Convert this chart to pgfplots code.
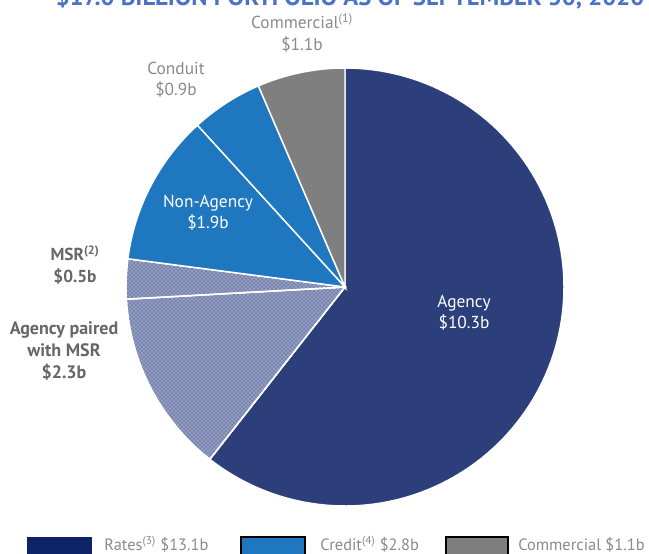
\documentclass[border=0pt]{standalone}
\usepackage{pgfplots}
\pgfplotsset{compat=1.18}
\usepackage{fontspec}
\setmainfont{PT Sans}
\usetikzlibrary{patterns}
\definecolor{navyS}{HTML}{2C3F7B}
\definecolor{navyL}{HTML}{0E2466}
\definecolor{blueS}{HTML}{1F78BF}
\definecolor{grayS}{HTML}{7F7F7F}
\definecolor{hatchbg}{HTML}{929CC0}
\definecolor{titleblue}{HTML}{4A72C8}
\definecolor{lblgray}{HTML}{8A8A8A}
\definecolor{lbldark}{HTML}{666666}
% values in $ billions
\def\vA{10.3}% Agency
\def\vB{2.3}% Agency paired with MSR
\def\vC{0.5}% MSR
\def\vD{1.9}% Non-Agency
\def\vE{0.9}% Conduit
\def\vF{1.1}% Commercial
\pgfmathsetmacro\tot{\vA+\vB+\vC+\vD+\vE+\vF}
\pgfmathsetmacro\aA{90-360*\vA/\tot}
\pgfmathsetmacro\aB{\aA-360*\vB/\tot}
\pgfmathsetmacro\aC{\aB-360*\vC/\tot}
\pgfmathsetmacro\aD{\aC-360*\vD/\tot}
\pgfmathsetmacro\aE{\aD-360*\vE/\tot}
\pgfmathsetmacro\aF{\aE-360*\vF/\tot}
\begin{document}
\begin{tikzpicture}
\clip (0,0) rectangle (486.75pt,414.75pt);
\begin{axis}[at={(0,0)}, anchor=south west, scale only axis,
  width=486.75pt, height=414.75pt,
  xmin=0, xmax=649, ymin=0, ymax=553, y dir=reverse,
  hide axis, clip=false]
% slices
\addplot[fill=navyS, draw=white, line width=1.1pt, domain=\aA:90, samples=120, variable=\t]
  ({345+219*cos(\t)},{287-219*sin(\t)}) -- (axis cs:345,287) -- cycle;
\addplot[fill=hatchbg, draw=white, line width=1.1pt, domain=\aB:\aA, samples=40, variable=\t,
  postaction={pattern=crosshatch dots, pattern color=navyS}]
  ({345+219*cos(\t)},{287-219*sin(\t)}) -- (axis cs:345,287) -- cycle;
\addplot[fill=hatchbg, draw=white, line width=1.1pt, domain=\aC:\aB, samples=20, variable=\t,
  postaction={pattern=crosshatch dots, pattern color=navyS}]
  ({345+219*cos(\t)},{287-219*sin(\t)}) -- (axis cs:345,287) -- cycle;
\addplot[fill=blueS, draw=white, line width=1.1pt, domain=\aD:\aC, samples=40, variable=\t]
  ({345+219*cos(\t)},{287-219*sin(\t)}) -- (axis cs:345,287) -- cycle;
\addplot[fill=blueS, draw=white, line width=1.1pt, domain=\aE:\aD, samples=20, variable=\t]
  ({345+219*cos(\t)},{287-219*sin(\t)}) -- (axis cs:345,287) -- cycle;
\addplot[fill=grayS, draw=white, line width=1.1pt, domain=\aF:\aE, samples=20, variable=\t]
  ({345+219*cos(\t)},{287-219*sin(\t)}) -- (axis cs:345,287) -- cycle;
% title (cropped at the top, as in the reference)
\node[anchor=base, text=titleblue, font=\bfseries\fontsize{18.5}{22}\selectfont]
  at (axis cs:350,6) {\$17.0 BILLION PORTFOLIO AS OF SEPTEMBER 30, 2020};
% labels
\node[text=lblgray, font=\fontsize{13}{16}\selectfont, align=center] at (axis cs:302,33)
  {Commercial\textsuperscript{(1)}\\\$1.1b};
\node[text=lblgray, font=\fontsize{13}{16}\selectfont, align=center] at (axis cs:176,80)
  {Conduit\\\$0.9b};
\node[text=white, font=\fontsize{13}{16}\selectfont, align=center] at (axis cs:208,213)
  {Non-Agency\\\$1.9b};
\node[text=white, font=\fontsize{13}{16}\selectfont, align=center] at (axis cs:464,313)
  {Agency\\\$10.3b};
\node[text=lbldark, font=\bfseries\fontsize{13}{16.5}\selectfont, align=center] at (axis cs:75,265)
  {MSR\textsuperscript{(2)}\\\$0.5b};
\node[text=lbldark, font=\bfseries\fontsize{13.5}{16.5}\selectfont, align=center] at (axis cs:64,351)
  {Agency paired\\with MSR\\\$2.3b};
% legend
\addplot[fill=navyL, draw=none] coordinates {(27,537) (92,537) (92,560) (27,560)} -- cycle;
\addplot[fill=blueS, draw=black, line width=0.9pt] coordinates {(241,537) (305,537) (305,560) (241,560)} -- cycle;
\addplot[fill=grayS, draw=black, line width=0.9pt] coordinates {(446,537) (508,537) (508,560) (446,560)} -- cycle;
\node[anchor=base west, inner sep=0pt, text=lblgray, font=\fontsize{12.3}{14}\selectfont] at (axis cs:104,550)
  {Rates\textsuperscript{(3)} \$13.1b};
\node[anchor=base west, inner sep=0pt, text=lblgray, font=\fontsize{12.3}{14}\selectfont] at (axis cs:320,550)
  {Credit\textsuperscript{(4)} \$2.8b};
\node[anchor=base west, inner sep=0pt, text=lblgray, font=\fontsize{12.3}{14}\selectfont] at (axis cs:518,550)
  {Commercial \$1.1b};
\end{axis}
\end{tikzpicture}
\end{document}
